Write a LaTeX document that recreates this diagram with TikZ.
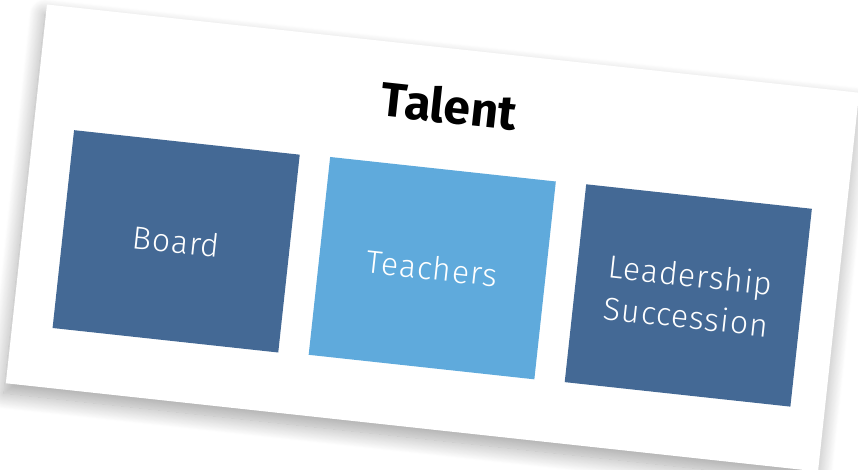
\documentclass[tikz,border=0pt]{standalone}
\usepackage{fontspec}
\setmainfont{Fira Sans Light}[LetterSpace=3]
\newfontfamily\titlefont{Fira Sans}
\usetikzlibrary{shadows.blur}

\definecolor{darkblue}{HTML}{446995}
\definecolor{lightblue}{HTML}{5FAADC}

\begin{document}
\begin{tikzpicture}[x=1pt, y=1pt,
    card/.style={fill=white, minimum width=817pt, minimum height=381pt, inner sep=0pt,
      blur shadow={shadow xshift=-2pt, shadow yshift=-10pt, shadow blur radius=16pt,
        shadow opacity=35, shadow blur steps=20}},
    tile/.style={minimum width=227pt, minimum height=199pt, inner sep=0pt,
      text=white, align=center, font=\fontsize{32}{42}\selectfont}]
\useasboundingbox (0,0) rectangle (858,469);

% the tilted card, everything inside is placed from its centre
\begin{scope}[shift={(432.5,231)}, rotate=-6.2, transform shape]
  \node [card] (talentcard) at (0,0) {};

  \node [font=\titlefont\bfseries\fontsize{48}{50}\selectfont] (talent) at (2.5,133.5) {Talent};

  \node [tile, fill=darkblue] (board) at (-254.5,-31) {Board};
  \node [tile, fill=lightblue] (teachers) at (3,-30) {Teachers};
  \node [tile, fill=darkblue] (leadership) at (260.5,-29.5) {Leadership\\Succession};
\end{scope}

\end{tikzpicture}
\end{document}
